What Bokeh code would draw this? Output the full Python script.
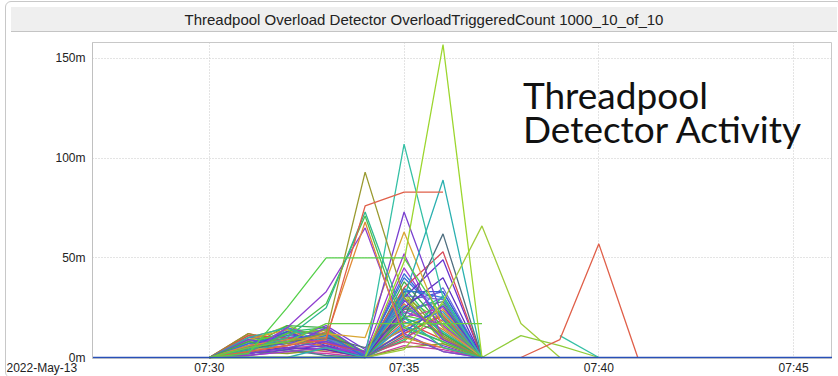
from datetime import datetime
from bokeh.plotting import figure
from bokeh.models import (Range1d, FixedTicker, PrintfTickFormatter,
                          DatetimeTickFormatter, Label, Div)
from bokeh.layouts import column
from bokeh.embed import file_html
from bokeh.resources import INLINE

DAY = "2022-05-13"
TITLE = "Threadpool Overload Detector OverloadTriggeredCount 1000_10_of_10"
DATE_LABEL = "2022-May-13"
NOTE_LINES = ["Threadpool", "Detector Activity"]

# time axis
minutes = ["07:30", "07:31", "07:32", "07:33", "07:34", "07:35", "07:36", "07:37"]
x_ticks = ["07:30", "07:35", "07:40", "07:45"]
x_limits = ["07:27", "07:46"]
y_ticks = [0, 50, 100, 150]          # values in "m" (milli) units
y_limits = [-0.5, 158]

# prominent series (values in m)
lime_peak_t = minutes
lime_peak_v = [0, 0, 0, 0, 0, 48, 157, 0]
lime_66_t = ["07:30", "07:31", "07:32", "07:33", "07:34", "07:35", "07:36", "07:37", "07:38", "07:39"]
lime_66_v = [0, 0, 0, 0, 0, 4, 28, 66, 17, 0]
green_50_t = minutes
green_50_v = [0, 2, 25, 50, 50, 50, 20, 0]
green_17_t = minutes
green_17_v = [0, 5, 8, 17, 17, 17, 17, 17]
red_plateau_t = ["07:30", "07:31", "07:32", "07:33", "07:34", "07:35", "07:36"]
red_plateau_v = [0, 3, 6, 9, 76, 83, 83]
olive_93_v = [0, 5, 8, 12, 93, 30, 10, 0]
teal_73_v = [0, 4, 10, 25, 73, 20, 5, 0]
green_71_v = [0, 3, 12, 27, 71, 15, 8, 0]
orange_68_v = [0, 6, 9, 10, 68, 10, 5, 0]
purple_65_v = [0, 2, 15, 33, 65, 12, 3, 0]
teal_107_v = [0, 0, 0, 0, 0, 107, 30, 0]
teal_89_v = [0, 0, 0, 5, 0, 30, 89, 0]
purple_73_v = [0, 2, 5, 8, 3, 73, 20, 0]
orange_63_v = [0, 3, 6, 12, 10, 63, 15, 0]
slate_62_v = [0, 4, 8, 10, 5, 20, 62, 0]
red_53_v = [0, 5, 10, 7, 3, 35, 53, 0]
purple_52_v = [0, 1, 3, 5, 2, 52, 10, 0]
purple_49_v = [0, 2, 4, 6, 0, 30, 49, 0]
purple_40_v = [0, 3, 5, 4, 0, 25, 40, 0]
blue_33a_v = [0, 5, 9, 12, 0, 33, 33, 0]
blue_33b_v = [0, 4, 8, 11, 1, 34, 30, 0]
late_green_t = ["07:37", "07:38", "07:39", "07:40"]
late_green_v = [0, 11, 6, 0]
late_red_t = ["07:38", "07:39", "07:40", "07:41"]
late_red_v = [0, 9, 57, 0]
late_teal_t = ["07:39", "07:40"]
late_teal_v = [11, 0]
zero_v = [0, 0]

# the dense bundle of low series (07:30 .. 07:37)
bundle = [
    [0, 12, 8, 6, 1, 18, 9, 0],
    [0, 10, 15, 5, 0, 25, 14, 0],
    [0, 9, 7, 14, 2, 12, 22, 0],
    [0, 8, 16, 9, 0, 30, 18, 0],
    [0, 11, 6, 12, 3, 8, 27, 0],
    [0, 7, 13, 15, 0, 35, 12, 0],
    [0, 6, 10, 8, 1, 22, 30, 0],
    [0, 5, 14, 11, 0, 16, 8, 0],
    [0, 9, 4, 13, 2, 40, 20, 0],
    [0, 4, 12, 7, 0, 28, 33, 0],
    [0, 10, 9, 16, 4, 14, 6, 0],
    [0, 3, 15, 10, 0, 45, 16, 0],
    [0, 8, 5, 6, 1, 20, 25, 0],
    [0, 6, 11, 14, 0, 10, 19, 0],
    [0, 12, 7, 9, 2, 33, 11, 0],
    [0, 2, 13, 12, 0, 24, 28, 0],
    [0, 7, 8, 5, 3, 19, 35, 0],
    [0, 5, 16, 15, 0, 38, 15, 0],
    [0, 11, 10, 8, 1, 12, 21, 0],
    [0, 4, 6, 13, 0, 27, 10, 0],
    [0, 9, 14, 4, 2, 15, 24, 0],
    [0, 3, 9, 11, 0, 32, 7, 0],
    [0, 8, 12, 14, 1, 21, 17, 0],
    [0, 6, 4, 10, 0, 9, 31, 0],
    [0, 10, 15, 7, 3, 26, 13, 0],
    [0, 2, 8, 12, 0, 17, 23, 0],
    [0, 7, 11, 9, 1, 42, 19, 0],
    [0, 5, 13, 6, 0, 13, 26, 0],
    [0, 9, 6, 15, 2, 29, 9, 0],
    [0, 4, 10, 8, 0, 23, 16, 0],
    [0, 1, 3, 2, 0, 6, 4, 0],
    [0, 2, 5, 3, 1, 8, 5, 0],
    [0, 3, 2, 4, 0, 5, 7, 0],
    [0, 1, 4, 1, 0, 11, 3, 0],
    [0, 6, 9, 10, 0, 31, 29, 0],
    [0, 8, 3, 5, 0, 20, 12, 0],
]
palette = ["#e04a4a", "#e07b39", "#c9a227", "#9ccc2e", "#5ccf3f", "#2fbf71",
           "#2bb5a8", "#2f9fd0", "#3a6fd8", "#4b4bd6", "#7a3fd6", "#a23fcf",
           "#c93fa8", "#d64577", "#8f9a2f", "#4f7f8f", "#6a6adf", "#3fae4f"]


def t(s):
    return datetime.strptime(DAY + " " + s, "%Y-%m-%d %H:%M")


def ms(s):
    return (t(s) - datetime(1970, 1, 1)).total_seconds() * 1000.0


p = figure(width=826, height=340, x_axis_type="datetime", title=None,
           x_range=Range1d(t(x_limits[0]), t(x_limits[1])),
           y_range=Range1d(y_limits[0], y_limits[1]),
           output_backend="svg", toolbar_location=None,
           min_border_top=5, min_border_left=86, min_border_right=0,
           min_border_bottom=0, background_fill_color="white",
           border_fill_color="white")
p.outline_line_color = "#c8c8c8"

LW = 1.3
for i, vals in enumerate(bundle):
    p.line([t(m) for m in minutes], vals, line_color=palette[i % len(palette)],
           line_width=LW)

main = [
    (minutes, purple_40_v, "#5a2fc0"),
    (minutes, purple_49_v, "#6a35d0"),
    (minutes, purple_52_v, "#9a3ad0"),
    (minutes, blue_33a_v, "#3a60d8"),
    (minutes, blue_33b_v, "#2f7fd0"),
    (minutes, red_53_v, "#d84a5a"),
    (minutes, slate_62_v, "#4f6f80"),
    (minutes, orange_63_v, "#d9a633"),
    (minutes, purple_73_v, "#7a40d0"),
    (minutes, teal_89_v, "#2bb0b0"),
    (minutes, teal_107_v, "#35c0a5"),
    (minutes, purple_65_v, "#9040d0"),
    (minutes, orange_68_v, "#e08a35"),
    (minutes, green_71_v, "#4cc04c"),
    (minutes, teal_73_v, "#30b890"),
    (minutes, olive_93_v, "#9a9a30"),
    (red_plateau_t, red_plateau_v, "#e0604a"),
    (green_17_t, green_17_v, "#66cc44"),
    (green_50_t, green_50_v, "#55d04a"),
    (lime_66_t, lime_66_v, "#a0cc3a"),
    (lime_peak_t, lime_peak_v, "#9cd62e"),
    (late_green_t, late_green_v, "#90cc3a"),
    (late_teal_t, late_teal_v, "#35c0a5"),
    (late_red_t, late_red_v, "#e0604a"),
]
for ts, vals, c in main:
    p.line([t(m) for m in ts], vals, line_color=c, line_width=LW)

p.line([t(m) for m in x_limits], zero_v, line_color="#2850b8", line_width=1.6)

# axes: the date label sits on a tick at the left edge of the frame,
# padded with no-break spaces so that it reads left of the y axis
date_tick = ms(x_limits[0])
p.xaxis.ticker = FixedTicker(ticks=[date_tick] + [ms(s) for s in x_ticks])
p.xaxis.formatter = DatetimeTickFormatter(minutes="%H:%M", hours="%H:%M",
                                          minsec="%H:%M", seconds="%H:%M")
p.xaxis.major_label_overrides = {date_tick: DATE_LABEL + "\u00a0" * 31}
p.xgrid.ticker = FixedTicker(ticks=[ms(s) for s in x_ticks])
p.yaxis.ticker = FixedTicker(ticks=y_ticks)
p.yaxis.formatter = PrintfTickFormatter(format="%dm")
for ax in (p.xaxis[0], p.yaxis[0]):
    ax.major_tick_out = 0
    ax.major_tick_in = 0
    ax.minor_tick_out = 0
    ax.minor_tick_in = 0
    ax.major_label_text_font = "Liberation Sans"
    ax.major_label_text_font_size = "12px"
    ax.major_label_text_color = "#222222"
p.yaxis.axis_line_color = "#c0c0c0"
p.yaxis.major_label_standoff = 7
p.xaxis.axis_line_color = None
p.xaxis.major_label_standoff = 2

p.xgrid.grid_line_color = "#c8c8c8"
p.xgrid.grid_line_dash = "1 2"
p.ygrid.grid_line_color = "#c8c8c8"
p.ygrid.grid_line_dash = "1 2"

# annotation text
p.add_layout(Label(x=t("07:38"), y=132, x_offset=2, text=NOTE_LINES[0],
                   text_font="Lato", text_font_size="37px",
                   text_color="#111111", text_baseline="alphabetic"))
p.add_layout(Label(x=t("07:38"), y=115, x_offset=2, text=NOTE_LINES[1],
                   text_font="Lato", text_font_size="37px",
                   text_color="#111111", text_baseline="alphabetic"))

title = Div(text=TITLE, width=826, height=25,
            styles={"background-color": "#efefef",
                    "border-bottom": "1px solid #c4c4c4",
                    "text-align": "center",
                    "font-family": "Liberation Sans, Arial, sans-serif",
                    "font-size": "15px", "color": "#222222",
                    "line-height": "25px", "width": "826px",
                    "box-sizing": "border-box"})

layout = column(title, p, spacing=0,
                styles={"border": "1px solid #c8c8c8", "border-radius": "6px",
                        "overflow": "hidden", "margin-left": "5px",
                        "margin-top": "1px"})

open("out.html", "w").write(file_html(layout, INLINE))
